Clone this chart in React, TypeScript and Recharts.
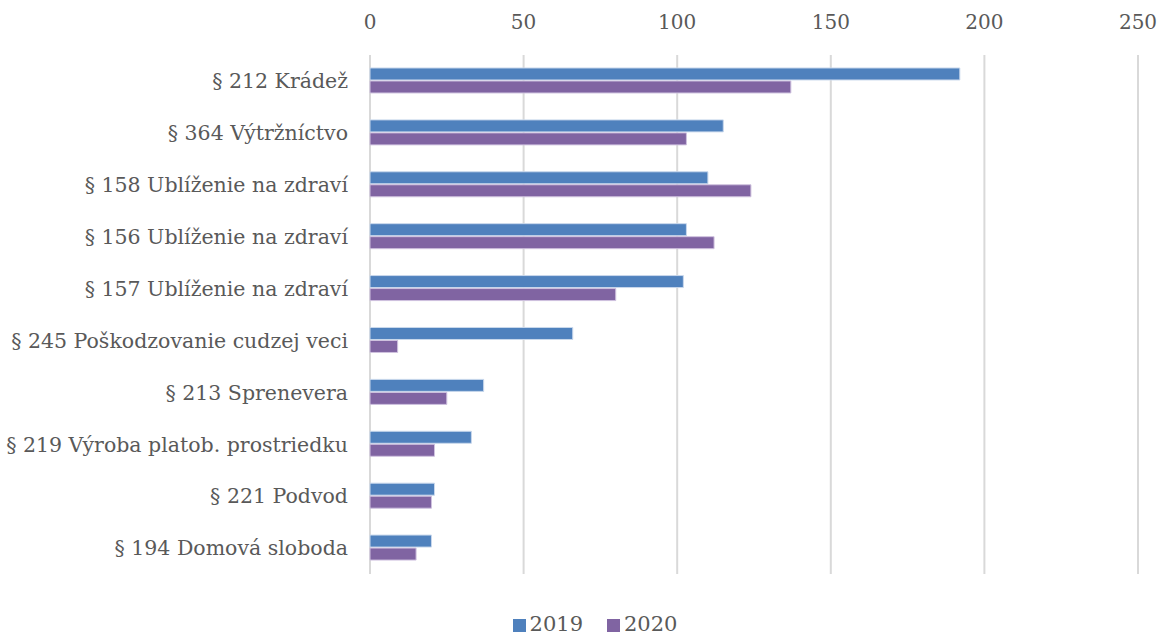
import React from 'react'
import { BarChart, Bar, XAxis, YAxis, CartesianGrid, Legend } from 'recharts'

// kategórie trestných činov (zhora nadol)
const categories = [
  '§ 212 Krádež',
  '§ 364 Výtržníctvo',
  '§ 158 Ublíženie na zdraví',
  '§ 156 Ublíženie na zdraví',
  '§ 157 Ublíženie na zdraví',
  '§ 245 Poškodzovanie cudzej veci',
  '§ 213 Sprenevera',
  '§ 219 Výroba platob. prostriedku',
  '§ 221 Podvod',
  '§ 194 Domová sloboda',
]
const values2019 = [192, 115, 110, 103, 102, 66, 37, 33, 21, 20]
const values2020 = [137, 103, 124, 112, 80, 9, 25, 21, 20, 15]
const xTicks = [0, 50, 100, 150, 200, 250]

const data = categories.map((name, i) => ({
  name,
  y2019: values2019[i],
  y2020: values2020[i],
}))

const FONT = '"DejaVu Serif", serif'
const TEXT = '#595959'

export default function App() {
  return (
    <div style={{ position: 'absolute', left: 0, top: 0, background: '#fff' }}>
      <BarChart
        width={1160}
        height={636}
        data={data}
        layout="vertical"
        margin={{ top: 25, right: 22, bottom: 38, left: 4 }}
        barCategoryGap="25%"
        barGap={1}
        style={{ fontFamily: FONT }}
      >
        <CartesianGrid horizontal={false} stroke="#d9d9d9" strokeWidth={2} />
        <XAxis
          type="number"
          orientation="top"
          domain={[0, 250]}
          ticks={xTicks}
          axisLine={false}
          tickLine={false}
          tickMargin={20}
          tick={{ fontSize: 20, fill: TEXT, fontFamily: FONT }}
        />
        <YAxis
          type="category"
          dataKey="name"
          width={366}
          axisLine={false}
          tickLine={false}
          tickMargin={16}
          interval={0}
          tick={{ fontSize: 20.5, fill: TEXT, fontFamily: FONT }}
        />
        <Legend
          verticalAlign="bottom"
          iconType="square"
          iconSize={13}
          wrapperStyle={{
            fontSize: 21,
            fontFamily: FONT,
            color: TEXT,
            bottom: 0,
            left: 0,
            width: 1160,
            paddingLeft: 54,
            boxSizing: 'border-box',
          }}
          formatter={(v) => <span style={{ color: TEXT, marginRight: 14 }}>{v}</span>}
        />
        <Bar dataKey="y2019" name="2019" fill="#4f81bd" stroke="#c9d8ec" strokeWidth={1} isAnimationActive={false} />
        <Bar dataKey="y2020" name="2020" fill="#8064a2" stroke="#cfc2df" strokeWidth={1} isAnimationActive={false} />
      </BarChart>
    </div>
  )
}
